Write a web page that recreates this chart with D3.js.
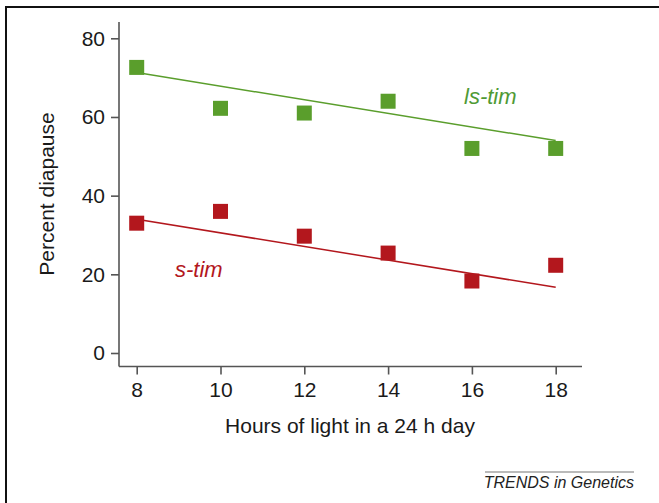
<!DOCTYPE html>
<html>
<head>
<meta charset="utf-8">
<script src="https://cdn.jsdelivr.net/npm/d3@7"></script>
<style>
  body { margin: 0; background: #fff; }
  svg { display: block; font-family: "Liberation Sans", Arial, sans-serif; }
</style>
</head>
<body>
<div id="chart"></div>
<script>
//DATA
const hours = [8, 10, 12, 14, 16, 18];
const lsTim = [72.6, 62.2, 61, 64, 52, 52];
const sTim = [33, 36, 29.7, 25.4, 18.3, 22.3];
// fitted lines as drawn: [x, y] at each end
const lsTimFit = [[8, 71.3], [18, 54]];
const sTimFit = [[8, 34], [18, 16.7]];
const yTicks = [0, 20, 40, 60, 80];

//CONSTANTS
const width = 659, height = 503;
const green = "#5a9e2c", red = "#b3171d";

const svg = d3.select("#chart")
  .append("svg")
  .attr("width", width)
  .attr("height", height);

//FRAME
svg.append("path")
  .attr("d", "M6,503 V7 H659")
  .attr("fill", "none")
  .attr("stroke", "#111")
  .attr("stroke-width", 2);

//SCALES
const x = d3.scaleLinear().domain([8, 18]).range([136.7, 555.7]);
const y = d3.scaleLinear().domain([0, 80]).range([353, 38.3]);

//AXES
const yAxis = svg.append("g")
  .attr("transform", "translate(119,0)")
  .call(d3.axisLeft(y).tickValues(yTicks).tickSize(8).tickPadding(6));
yAxis.select(".domain").attr("d", "M0,22V366.5");

const xAxis = svg.append("g")
  .attr("transform", "translate(0,366.5)")
  .call(d3.axisBottom(x).tickValues(hours).tickSize(8).tickPadding(8));
xAxis.select(".domain").attr("d", "M119,0H582");

svg.selectAll(".tick line, .domain")
  .attr("stroke", "#555")
  .attr("stroke-width", 1.6);
svg.selectAll(".tick text")
  .attr("font-size", "21px")
  .attr("fill", "#1a1a1a")
  .attr("font-family", "Liberation Sans, Arial, sans-serif");

//AXIS TITLES
svg.append("text")
  .attr("x", 350)
  .attr("y", 433)
  .attr("text-anchor", "middle")
  .attr("font-size", "21px")
  .attr("fill", "#1a1a1a")
  .text("Hours of light in a 24 h day");

svg.append("text")
  .attr("transform", "translate(54,194) rotate(-90)")
  .attr("text-anchor", "middle")
  .attr("font-size", "21px")
  .attr("fill", "#1a1a1a")
  .text("Percent diapause");

//FIT LINES
const line = d3.line().x(d => x(d[0])).y(d => y(d[1]));
svg.append("path").attr("d", line(lsTimFit))
  .attr("fill", "none").attr("stroke", green).attr("stroke-width", 1.5);
svg.append("path").attr("d", line(sTimFit))
  .attr("fill", "none").attr("stroke", red).attr("stroke-width", 1.5);

//POINTS
const sq = 15;
svg.selectAll("rect.ls")
  .data(hours.map((h, i) => [h, lsTim[i]]))
  .join("rect")
  .attr("class", "ls")
  .attr("x", d => x(d[0]) - sq / 2)
  .attr("y", d => y(d[1]) - sq / 2)
  .attr("width", sq).attr("height", sq)
  .attr("fill", green);

svg.selectAll("rect.s")
  .data(hours.map((h, i) => [h, sTim[i]]))
  .join("rect")
  .attr("class", "s")
  .attr("x", d => x(d[0]) - sq / 2)
  .attr("y", d => y(d[1]) - sq / 2)
  .attr("width", sq).attr("height", sq)
  .attr("fill", red);

//SERIES LABELS
svg.append("text")
  .attr("x", 464).attr("y", 104)
  .attr("font-size", "22px").attr("font-style", "italic")
  .attr("fill", "#4f9a35")
  .text("ls-tim");

svg.append("text")
  .attr("x", 175).attr("y", 277)
  .attr("font-size", "22px").attr("font-style", "italic")
  .attr("fill", red)
  .text("s-tim");

//SOURCE
svg.append("line")
  .attr("x1", 485).attr("x2", 634)
  .attr("y1", 472).attr("y2", 472)
  .attr("stroke", "#777").attr("stroke-width", 1.2);
svg.append("text")
  .attr("x", 634).attr("y", 488)
  .attr("text-anchor", "end")
  .attr("font-size", "16px").attr("font-style", "italic")
  .attr("fill", "#222")
  .text("TRENDS in Genetics");
</script>
</body>
</html>
